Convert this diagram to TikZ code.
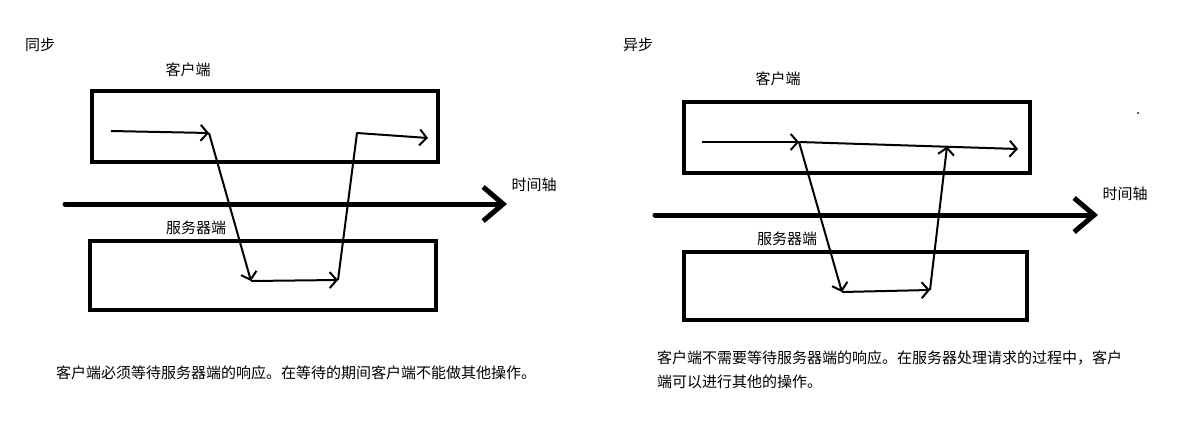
\documentclass[tikz,border=0pt]{standalone}
\usepackage{fontspec}
\newfontfamily\cjk{Noto Sans CJK SC}
\usepackage{tikz}
\usetikzlibrary{
  arrows.meta,
  positioning
}
\tikzset{
  lane/.style={
    rectangle,
    draw=black,
    line width=4pt,
    inner sep=0pt
  },
  flow/.style={
    -{Straight Barb[length=7pt,width=16pt]},
    line width=2pt,
    line join=round,
    draw=black
  },
  timeaxis/.style={
    -{Straight Barb[length=20pt,width=34pt]},
    line width=5pt,
    line cap=round,
    draw=black
  },
  tag/.style={
    font=\cjk\fontsize{15}{24}\selectfont,
    inner sep=0pt
  }
}

\begin{document}
\begin{tikzpicture}[x=1pt,y=-1pt]
\useasboundingbox (0,0) rectangle (1184,426);

% synchronous side
\node[tag] (syncTitle) at (40,45) {同步};
\node[tag] (syncClientLbl) at (188,70) {客户端};
\node[lane,minimum width=346pt,minimum height=71pt] (syncClient) at (265,126.5) {};
\node[tag] (syncServerLbl) at (196,228) {服务器端};
\node[lane,minimum width=346pt,minimum height=69pt] (syncServer) at (263,275.5) {};
\coordinate (syncAxisL) at (65,204);
\coordinate (syncAxisR) at (507,204);
\draw[timeaxis] (syncAxisL) -- (syncAxisR);
\node[tag] (syncAxisLbl) at (534,185) {时间轴};

\coordinate (s1) at (111,131);
\coordinate (s2) at (209,133);
\coordinate (s3) at (251,281);
\coordinate (s4) at (338,280);
\coordinate (s5) at (357,133);
\coordinate (s6) at (428,138);
\draw[flow] (s1) -- (s2);
\draw[flow] (s2) -- (s3);
\draw[flow] (s3) -- (s4);
\draw[flow] (s4) -- (s5) -- (s6);

\node[tag,anchor=west] (syncNote) at (56,373) {客户端必须等待服务器端的响应。在等待的期间客户端不能做其他操作。};

% asynchronous side
\node[tag] (asyncTitle) at (638,45) {异步};
\node[tag] (asyncClientLbl) at (778,79) {客户端};
\node[lane,minimum width=346pt,minimum height=71pt] (asyncClient) at (857,137.5) {};
\node[tag] (asyncServerLbl) at (787,239) {服务器端};
\node[lane,minimum width=343pt,minimum height=68pt] (asyncServer) at (855.5,286) {};
\coordinate (asyncAxisL) at (655,215);
\coordinate (asyncAxisR) at (1098,215);
\draw[timeaxis] (asyncAxisL) -- (asyncAxisR);
\node[tag] (asyncAxisLbl) at (1125,194) {时间轴};
\node[circle,fill=black,inner sep=0pt,minimum size=2pt] (dot) at (1138,113) {};

\coordinate (a1) at (702,142);
\coordinate (a2) at (799,142);
\coordinate (a3) at (842,292);
\coordinate (a4) at (930,290);
\coordinate (a5) at (947,146.5);
\coordinate (a6) at (1018,149);
\draw[flow] (a1) -- (a2);
\draw[flow] (a2) -- (a6);
\draw[flow] (a2) -- (a3);
\draw[flow] (a3) -- (a4);
\draw[flow] (a4) -- (a5);

\node[tag,anchor=west,align=left] (asyncNote) at (657,370) {客户端不需要等待服务器端的响应。在服务器处理请求的过程中，客户\\端可以进行其他的操作。};
\end{tikzpicture}
\end{document}
